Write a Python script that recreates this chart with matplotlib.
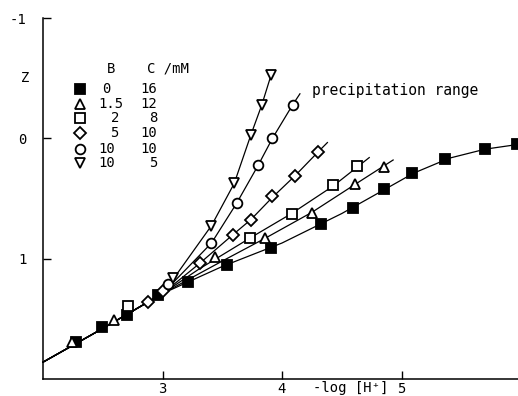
import matplotlib
matplotlib.use("Agg")
import matplotlib.pyplot as plt
from matplotlib.transforms import blended_transform_factory

# ---------------- data ----------------
base_x = [2.0, 2.5, 3.0]
base_y = [1.86, 1.58, 1.29]

# B=0, C=16 (filled squares)
fs_x = [2.28, 2.49, 2.70, 2.96, 3.21, 3.54, 3.91, 4.33, 4.59, 4.85, 5.09, 5.36, 5.70, 5.97]
fs_y = [1.69, 1.57, 1.47, 1.30, 1.19, 1.05, 0.91, 0.71, 0.58, 0.42, 0.29, 0.17, 0.09, 0.05]
fs_fit_x = [3.5, 4.0, 4.5, 4.85, 5.1, 5.4, 5.7, 6.05]
fs_fit_y = [1.065, 0.87, 0.625, 0.43, 0.29, 0.165, 0.09, 0.04]

# B=1.5, C=12 (triangles up)
tu_x = [2.24, 2.59, 3.44, 3.86, 4.25, 4.61, 4.85]
tu_y = [1.69, 1.51, 0.99, 0.825, 0.62, 0.38, 0.24]
tu_fit_x = [3.5, 3.86, 4.25, 4.6, 4.93]
tu_fit_y = [1.02, 0.83, 0.615, 0.39, 0.18]

# B=2, C=8 (open squares)
os_x = [2.71, 3.73, 4.08, 4.43, 4.63]
os_y = [1.39, 0.83, 0.625, 0.39, 0.23]
os_fit_x = [3.3, 3.73, 4.08, 4.43, 4.73]
os_fit_y = [1.09, 0.83, 0.625, 0.395, 0.16]

# B=5, C=10 (diamonds)
di_x = [2.88, 3.00, 3.31, 3.59, 3.74, 3.92, 4.11, 4.30]
di_y = [1.36, 1.27, 1.04, 0.80, 0.675, 0.48, 0.31, 0.11]
di_fit_x = [3.31, 3.59, 3.74, 3.92, 4.11, 4.30, 4.38]
di_fit_y = [1.04, 0.80, 0.675, 0.49, 0.31, 0.115, 0.035]

# B=10, C=10 (circles)
ci_x = [3.05, 3.41, 3.62, 3.80, 3.92, 4.09]
ci_y = [1.21, 0.87, 0.54, 0.225, 0.0, -0.28]
ci_fit_x = [3.41, 3.62, 3.80, 3.92, 4.09, 4.15]
ci_fit_y = [0.87, 0.54, 0.225, 0.0, -0.28, -0.37]

# B=10, C=5 (triangles down)
td_x = [3.09, 3.41, 3.60, 3.74, 3.83, 3.91]
td_y = [1.16, 0.725, 0.375, -0.03, -0.275, -0.53]
td_fit_x = [3.09, 3.41, 3.60, 3.74, 3.83, 3.91]
td_fit_y = [1.17, 0.725, 0.375, -0.03, -0.275, -0.53]

legend_B = ["0", "1.5", "2", "5", "10", "10"]
legend_C = ["16", "12", "8", "10", "10", "5"]

x_ticks = [3, 4, 5, 6]
y_ticks = [-1, 0, 1]

# ---------------- figure ----------------
W, H = 518, 396
fig = plt.figure(figsize=(W / 100, H / 100), dpi=100)
ax = fig.add_axes([43 / W, 17 / H, (521 - 43) / W, (379 - 18) / H])
ax.set_xlim(2, 6)
ax.set_ylim(2, -1)

FONT = "DejaVu Sans Mono"
fs = 10
lw = 0.9

series = [
    (fs_x, fs_y, fs_fit_x, fs_fit_y, dict(marker="s", ms=7, mfc="black", mec="black")),
    (tu_x, tu_y, tu_fit_x, tu_fit_y, dict(marker="^", ms=7, mfc="white", mec="black")),
    (os_x, os_y, os_fit_x, os_fit_y, dict(marker="s", ms=6.5, mfc="white", mec="black")),
    (di_x, di_y, di_fit_x, di_fit_y, dict(marker="D", ms=6, mfc="white", mec="black")),
    (ci_x, ci_y, ci_fit_x, ci_fit_y, dict(marker="o", ms=7, mfc="white", mec="black")),
    (td_x, td_y, td_fit_x, td_fit_y, dict(marker="v", ms=7, mfc="white", mec="black")),
]

for mx, my, fx, fy, st in series:
    ax.plot(base_x + fx, base_y + fy, color="black", lw=lw, zorder=2, clip_on=False)
for mx, my, fx, fy, st in series:
    ax.plot(mx, my, ls="none", mew=1.3, zorder=3, clip_on=False, **st)

for s in ["top", "right"]:
    ax.spines[s].set_visible(False)
for s in ["left", "bottom"]:
    ax.spines[s].set_linewidth(1.1)

ax.set_xticks(x_ticks)
ax.set_yticks(y_ticks)
ax.set_yticklabels(["-1", "0", "1"])
ax.tick_params(direction="in", length=6, width=1.0, labelsize=fs)
ax.tick_params(axis="y", pad=12)
ax.tick_params(axis="x", pad=2)
for lab in ax.get_xticklabels() + ax.get_yticklabels():
    lab.set_family(FONT)

trans = blended_transform_factory(ax.transAxes, ax.transData)
ax.text(-0.028, -0.5, "Z", transform=trans, ha="right", va="center",
        family=FONT, fontsize=fs)

# axis label between 4 and 5
fig.text(313 / W, 1 - 388 / H, "-log [H⁺]", ha="left", va="center",
         family=FONT, fontsize=fs)

# precipitation range
fig.text(312 / W, 1 - 90 / H, "precipitation range", ha="left", va="center",
         family=FONT, fontsize=10.5)

# legend block
fig.text(107 / W, 1 - 69 / H, "B", ha="left", va="center", family=FONT, fontsize=fs)
fig.text(147 / W, 1 - 69 / H, "C /mM", ha="left", va="center", family=FONT, fontsize=fs)
rows_y = [89, 104, 118, 133, 149, 163]
b_left = [102, 98, 111, 110, 98, 98]
for (mx, my, fx, fy, st), ry, bl, bt, ct in zip(series, rows_y, b_left, legend_B, legend_C):
    ax.plot([80 / W], [1 - ry / H], transform=fig.transFigure, ls="none",
            mew=1.3, clip_on=False, **st)
    fig.text(bl / W, 1 - ry / H, bt, ha="left", va="center", family=FONT, fontsize=fs)
    fig.text(157 / W, 1 - ry / H, ct, ha="right", va="center", family=FONT, fontsize=fs)

fig.savefig("out.png", dpi=100)
